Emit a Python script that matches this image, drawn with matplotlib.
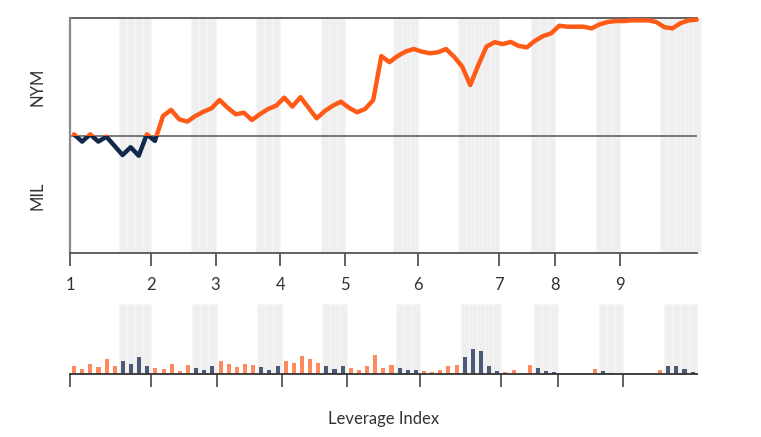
import matplotlib
matplotlib.use("Agg")
import matplotlib.pyplot as plt
from matplotlib.patches import Rectangle

plt.rcParams["font.family"] = ["Lato", "DejaVu Sans"]

# Win probability for NYM after each plate appearance (78 states).
win_prob = [
    0.505, 0.474, 0.505, 0.474, 0.495, 0.456, 0.417, 0.450, 0.414, 0.505,
    0.477, 0.583, 0.609, 0.569, 0.559, 0.583, 0.601, 0.616, 0.651, 0.618,
    0.590, 0.597, 0.566, 0.591, 0.613, 0.627, 0.661, 0.623, 0.663, 0.618,
    0.573, 0.604, 0.627, 0.644, 0.618, 0.599, 0.613, 0.651, 0.838, 0.812,
    0.838, 0.857, 0.868, 0.857, 0.850, 0.854, 0.868, 0.835, 0.793, 0.715,
    0.800, 0.878, 0.897, 0.889, 0.898, 0.881, 0.875, 0.903, 0.923, 0.935,
    0.967, 0.963, 0.963, 0.963, 0.956, 0.973, 0.983, 0.987, 0.987, 0.990,
    0.990, 0.990, 0.983, 0.961, 0.956, 0.978, 0.990, 0.993,
]

# Leverage index of each plate appearance (77 PAs).
leverage = [
    0.80, 0.53, 1.03, 0.67, 1.47, 0.77, 1.30, 1.03, 1.70, 0.80,
    0.57, 0.50, 1.00, 0.33, 0.87, 0.60, 0.40, 0.77, 1.27, 1.00,
    0.70, 1.00, 0.93, 0.67, 0.40, 0.80, 1.30, 1.07, 1.77, 1.50,
    1.07, 0.77, 0.47, 0.80, 0.60, 0.40, 0.77, 1.90, 0.57, 0.90,
    0.60, 0.37, 0.40, 0.27, 0.20, 0.37, 0.77, 0.93, 1.70, 2.50,
    2.30, 0.77, 0.30, 0.20, 0.40, 0.13, 0.93, 0.60, 0.33, 0.20,
    0.07, 0.07, 0.07, 0.10, 0.50, 0.30, 0.10, 0.03, 0.03, 0.07,
    0.07, 0.07, 0.37, 0.80, 0.80, 0.47, 0.20,
]

innings = ["1", "2", "3", "4", "5", "6", "7", "8", "9"]
inning_start = [0, 10, 18, 26, 34, 43, 53, 60, 68]   # first PA of each inning
bottom_start = [6, 15, 23, 31, 40, 48, 57, 65, 73]   # first PA of each bottom half

ORANGE = "#ff5a16"
NAVY = "#13294b"
BAR_ORANGE = "#fd8a5e"
BAR_NAVY = "#4b5a77"
STRIPE = "#efefef"
TEXT = "#333333"
FRAME = "#555555"


def bottom_half(n_total):
    out = []
    for k, b in enumerate(bottom_start):
        end = inning_start[k + 1] if k + 1 < len(inning_start) else n_total
        out.extend(range(b, end))
    return set(out)


def draw_stripes(ax, idx, top):
    for i in sorted(idx):
        ax.add_patch(Rectangle((i, 0), 1, top, facecolor=STRIPE,
                               edgecolor="#f7f7f7", linewidth=0.6,
                               zorder=0, clip_on=False))


fig = plt.figure(figsize=(7.61, 4.37), dpi=100)

# ---- win probability panel
ax = fig.add_axes([70 / 761, 1 - 253 / 437, 626.7 / 761, 235 / 437])
n = len(win_prob)
x = [i + 0.5 for i in range(n)]
draw_stripes(ax, bottom_half(n), 1.0)

ax.axhline(0.5, color=FRAME, lw=1.1, zorder=2)
ax.axhline(1.0, color=FRAME, lw=1.3, zorder=2, clip_on=False)

for color, y0 in [(ORANGE, 0.5), (NAVY, -0.5)]:
    ln, = ax.plot(x, win_prob, color=color, lw=3.2, zorder=3,
                  solid_capstyle="round", solid_joinstyle="round")
    ln.set_clip_path(Rectangle((-5, y0), 100, 1.0, transform=ax.transData))

ax.set_xlim(0, 77.5)
ax.set_ylim(0, 1)
for s in ["top", "right"]:
    ax.spines[s].set_visible(False)
ax.spines["left"].set_color("#8a8a8a")
ax.spines["left"].set_linewidth(1.6)
ax.spines["bottom"].set_color(FRAME)
ax.spines["bottom"].set_linewidth(1.3)
ax.set_yticks([])
ax.set_xticks(inning_start)
ax.set_xticklabels(innings, fontsize=12, color=TEXT)
ax.tick_params(axis="x", length=9, width=1.3, color=FRAME, pad=8)

ax.text(-32 / 626.7, 0.708, "NYM", rotation=90, ha="center", va="center",
        fontsize=12, color=TEXT, transform=ax.transAxes)
ax.text(-32 / 626.7, 0.245, "MIL", rotation=90, ha="center", va="center",
        fontsize=12, color=TEXT, transform=ax.transAxes)

# ---- leverage index panel
bx = fig.add_axes([70 / 761, 1 - 374 / 437, 626.7 / 761, 70 / 437])
m = len(leverage)
bot = bottom_half(m)
draw_stripes(bx, bot, 7.0)
colors = [BAR_NAVY if i in bot else BAR_ORANGE for i in range(m)]
bx.bar([i + 0.5 for i in range(m)], leverage, width=0.5, color=colors, zorder=2)

bx.set_xlim(0, m)
bx.set_ylim(0, 7)
for s in ["top", "right", "left"]:
    bx.spines[s].set_visible(False)
bx.spines["bottom"].set_color("#333333")
bx.spines["bottom"].set_linewidth(1.3)
bx.set_yticks([])
bx.set_xticks(inning_start)
bx.set_xticklabels([])
bx.tick_params(axis="x", length=9, width=1.3, color=FRAME)
bx.set_xlabel("Leverage Index", fontsize=12, color=TEXT, labelpad=14)

fig.savefig("out.png", dpi=100)
